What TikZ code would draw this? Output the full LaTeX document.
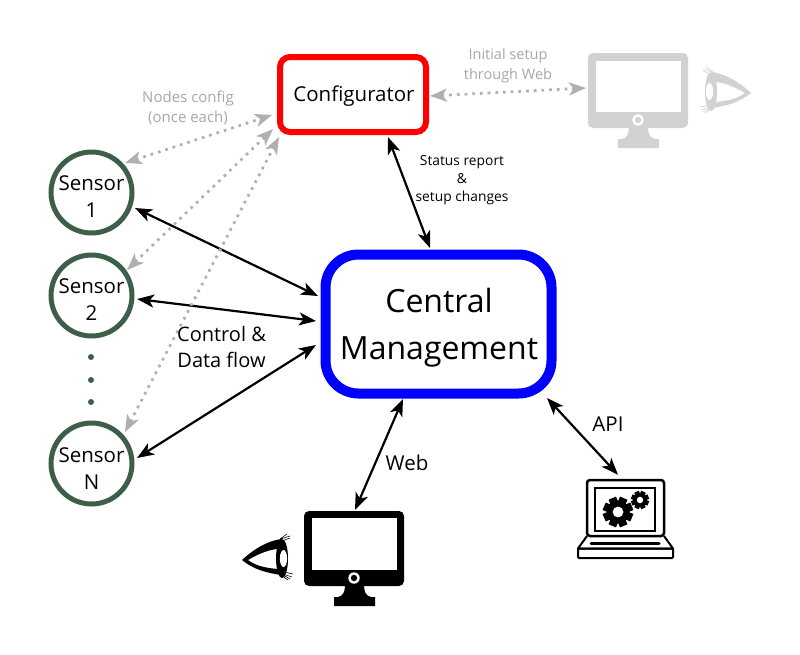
\documentclass[tikz,border=0pt]{standalone}
\usepackage{fontspec}
\setmainfont{Open Sans}
\usetikzlibrary{arrows.meta,shapes.geometric}
\definecolor{sensorgreen}{HTML}{3D5F4A}
\definecolor{ghost}{HTML}{D2D2D2}
\definecolor{dotgray}{HTML}{B0B0B0}
\definecolor{labelgray}{HTML}{A8A8A8}
\tikzset{
  sensor/.style={circle,draw=sensorgreen,line width=5pt,minimum size=81pt,inner sep=0pt,align=center},
  sensortext/.style={inner sep=0pt,align=center,font=\fontsize{20.5}{27}\selectfont},
  flow/.style={line width=2.2pt,{Stealth[length=17pt,width=13pt,inset=4.5pt]}-{Stealth[length=17pt,width=13pt,inset=4.5pt]}},
  setup/.style={line width=2.7pt,dotgray,dash pattern=on 2.7pt off 5pt,{Stealth[length=17pt,width=13pt,inset=4.5pt]}-{Stealth[length=17pt,width=13pt,inset=4.5pt]}},
  lab/.style={inner sep=0pt,align=center},
}
\newcommand{\monitorart}[1]{%
  \fill[#1] (345,585) .. controls (345,592) and (343,596) .. (338,597) -- (334,597) -- (334,606) -- (375,606) -- (375,597) -- (371,597) .. controls (366,596) and (364,592) .. (364,585) -- cycle;
  \fill[white] (354,578) circle (5.7pt);
  \fill[#1] (354,578) circle (3.2pt);
}
\newcommand{\eyeart}[1]{%
  \fill[#1,even odd rule] (242,560) .. controls (255,548) and (268,541) .. (281,539) -- (281,575) .. controls (268,573) and (254,570) .. (242,560) -- cycle
    (248,560) .. controls (258,554) and (268,550) .. (277,549) .. controls (279,555) and (279,563) .. (278,569) .. controls (266,568) and (256,566) .. (248,560) -- cycle;
  \fill[#1] (282,558.5) ellipse (6pt and 19.5pt);
  \fill[white] (283.5,558.5) ellipse (3.6pt and 8.5pt);
  \draw[#1,line width=.6pt] (281,539) -- (290,536) (280,539) -- (287,534) (282,541) -- (290,538)
    (283,574) -- (292,577) (283,575) -- (290,579) (284,572) -- (293,574) (282,576) -- (288,580);
}
\newcommand{\gearart}[3]{% x, y, size
  \begin{scope}[shift={(#1,#2)}]
    \foreach \a in {0,45,...,315} {
      \fill[black,rotate=\a+22.5] (-.27*#3,0) rectangle (.27*#3,#3);
    }
    \fill[black] (0,0) circle (.76*#3);
    \fill[white] (0,0) circle (.36*#3);
  \end{scope}
}
\begin{document}
\begin{tikzpicture}[x=1pt,y=-1pt]
\useasboundingbox (0,0) rectangle (800,654);
\fill[white] (0,0) rectangle (800,654);

% ghost monitor and eye
\node[draw=none,fill=ghost,rounded corners=5pt,minimum width=100pt,minimum height=75pt,inner sep=0pt] (gmon) at (638,90.5) {};
\fill[white] (595.5,60.5) rectangle (681,112);
\begin{scope}[shift={(284,-458)}]\monitorart{ghost}\end{scope}
\begin{scope}[shift={(993,-467)},xscale=-1]\eyeart{ghost}\end{scope}

% user monitor and eye
\node[draw=none,fill=black,rounded corners=5pt,minimum width=100pt,minimum height=75pt,inner sep=0pt] (mon) at (354,548.5) {};
\fill[white] (312,518) rectangle (397,570);
\monitorart{black}
\eyeart{black}

% laptop
\node[draw=black,line width=2.5pt,rounded corners=3pt,minimum width=77pt,minimum height=56pt,inner sep=0pt] (lap) at (625.5,508) {};
\draw[black,line width=2pt] (595,488) rectangle (655,531);
\draw[black,line width=2pt,line join=round] (587,536) -- (578,548.5) -- (673,548.5) -- (664,536);
\draw[black,line width=2pt,rounded corners=1pt] (578,548.5) rectangle (673,558);
\draw[black,line width=3pt,line cap=round] (591,543) -- (659,543);
\gearart{618}{512}{15}
\gearart{640}{500}{9}

% boxes
\node[draw=red,line width=6pt,rounded corners=10pt,minimum width=146pt,minimum height=75pt,inner sep=0pt] (conf) at (353,94.5) {};
\node[lab,font=\fontsize{20.5}{24}\selectfont] (conft) at (354,96.5) {Configurator};
\node[draw=blue,line width=10pt,rounded corners=33pt,minimum width=226pt,minimum height=139pt,inner sep=0pt] (cm) at (438.5,324) {};
\node[lab,font=\fontsize{32}{47}\selectfont] (cmt) at (439,328) {Central\\Management};

% sensors
\node[sensor] (s1) at (91.5,192.5) {};
\node[sensortext] (s1t) at (91.5,196.5) {Sensor\\1};
\node[sensor] (s2) at (91.5,295.5) {};
\node[sensortext] (s2t) at (91.5,299.5) {Sensor\\2};
\node[sensor] (sn) at (91.5,463.5) {};
\node[sensortext] (snt) at (91.5,468.5) {Sensor\\N};
\fill[sensorgreen] (91,357) circle (3pt) (91,380) circle (3pt) (91,402) circle (3pt);

% control and data
\draw[flow] ([shift={(43.5,15.5)}]s1.center) -- ([shift={(-120.5,-28)}]cm.center);
\draw[flow] ([shift={(45.5,3.5)}]s2.center) -- ([shift={(-122.5,-3)}]cm.center);
\draw[flow] ([shift={(45.5,-5.5)}]sn.center) -- ([shift={(-122.5,21)}]cm.center);
\draw[flow] ([shift={(35,42.5)}]conf.center) -- ([shift={(-8.5,-76)}]cm.center);
\draw[flow] ([shift={(-35.5,75)}]cm.center) -- ([shift={(1,-38.5)}]mon.center);
\draw[flow] ([shift={(108.5,74)}]cm.center) -- ([shift={(-7.5,-4)}]lap.north);

% setup
\draw[setup] ([shift={(33.5,-29.5)}]s1.center) -- ([shift={(-81,20.5)}]conf.center);
\draw[setup] ([shift={(35.5,-25.5)}]s2.center) -- ([shift={(-80,34.5)}]conf.center);
\draw[setup] ([shift={(33.5,-31.5)}]sn.center) -- ([shift={(-74,42.5)}]conf.center);
\draw[setup] ([shift={(77,1.5)}]conf.center) -- ([shift={(-52,-2.5)}]gmon.center);

% labels
\node[lab,labelgray,font=\fontsize{15}{20}\selectfont] (l1) at (188,107.5) {Nodes config\\(once each)};
\node[lab,labelgray,font=\fontsize{14.5}{20}\selectfont] (l2) at (508,65.5) {Initial setup\\through Web};
\node[lab,font=\fontsize{13.8}{18}\selectfont] (l3) at (462,180.5) {Status report\\\&\\setup changes};
\node[lab,font=\fontsize{20}{26}\selectfont] (l4) at (221.5,347) {Control \&\\Data flow};
\node[lab,font=\fontsize{20.5}{24}\selectfont] (l5) at (407,463) {Web};
\node[lab,font=\fontsize{20.5}{24}\selectfont] (l6) at (608,424) {API};
\end{tikzpicture}
\end{document}
